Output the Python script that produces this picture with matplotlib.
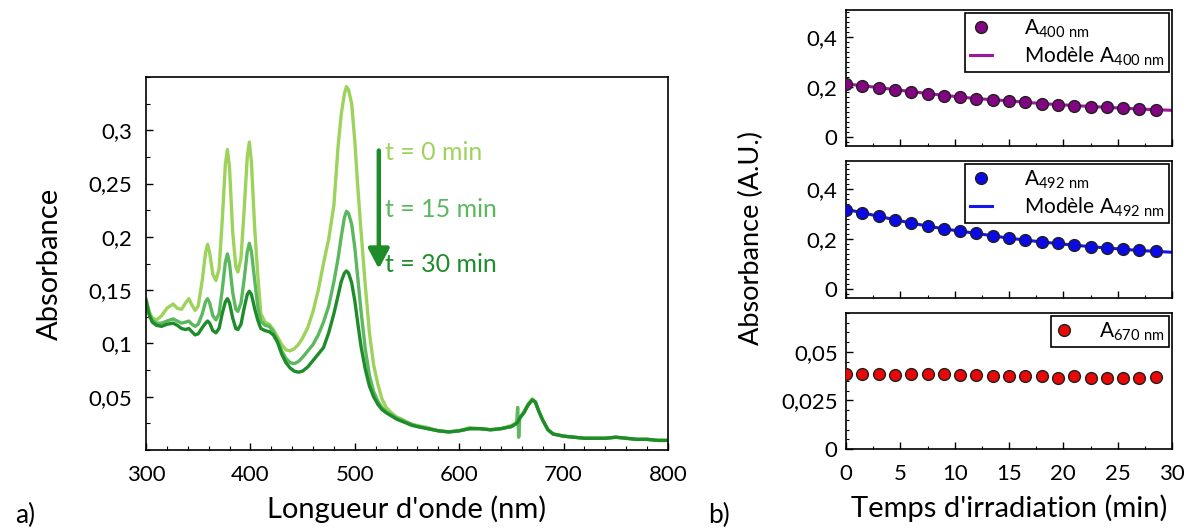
import matplotlib
matplotlib.use("Agg")
import matplotlib.pyplot as plt
from matplotlib.ticker import MultipleLocator, FuncFormatter

plt.rcParams['font.family'] = ['Lato', 'DejaVu Sans']
plt.rcParams['mathtext.fontset'] = 'custom'
plt.rcParams['mathtext.rm'] = 'Lato'

# ---------------- data: spectra ----------------
wavelength = [300, 303, 306, 310, 315, 320, 326, 330, 334, 338, 341, 344, 347, 350, 354, 357,
              359, 361, 364, 367, 370, 373, 376, 378, 380, 383, 386, 388, 391, 394, 397, 399,
              401, 404, 407, 410, 414, 418, 422, 426, 430, 434, 438, 442, 446, 450, 455, 460,
              465, 470, 475, 480, 484, 487, 490, 492, 494, 497, 500, 503, 506, 510, 514, 518,
              522, 526, 530, 535, 540, 545, 550, 555, 560, 570, 580, 590, 600, 610, 620, 630,
              640, 650, 655, 656, 657, 658, 662, 666, 670, 673, 676, 680, 685, 690, 700, 710,
              720, 730, 740, 750, 760, 770, 780, 790, 800]

abs_t0 = [0.142, 0.130, 0.124, 0.122, 0.126, 0.133, 0.137, 0.133, 0.132, 0.138, 0.142, 0.136,
          0.131, 0.135, 0.160, 0.185, 0.193, 0.185, 0.165, 0.159, 0.170, 0.215, 0.268, 0.282,
          0.265, 0.205, 0.172, 0.167, 0.180, 0.225, 0.275, 0.289, 0.270, 0.210, 0.165, 0.128,
          0.120, 0.118, 0.113, 0.106, 0.099, 0.094, 0.093, 0.095, 0.099, 0.105, 0.115, 0.130,
          0.150, 0.175, 0.198, 0.230, 0.285, 0.315, 0.334, 0.341, 0.338, 0.325, 0.290, 0.245,
          0.205, 0.155, 0.110, 0.080, 0.062, 0.048, 0.040, 0.035, 0.031, 0.029, 0.026, 0.024,
          0.023, 0.021, 0.018, 0.017, 0.018, 0.021, 0.020, 0.019, 0.020, 0.023, 0.026, 0.027,
          0.028, 0.030, 0.036, 0.043, 0.048, 0.045, 0.037, 0.028, 0.019, 0.015, 0.013, 0.012,
          0.011, 0.011, 0.011, 0.012, 0.011, 0.010, 0.010, 0.009, 0.009]

abs_t15 = [0.141, 0.128, 0.122, 0.119, 0.119, 0.121, 0.123, 0.121, 0.119, 0.120, 0.121, 0.118,
           0.116, 0.118, 0.128, 0.139, 0.142, 0.138, 0.126, 0.122, 0.128, 0.150, 0.176, 0.184,
           0.175, 0.148, 0.132, 0.130, 0.138, 0.160, 0.186, 0.194, 0.186, 0.160, 0.135, 0.121,
           0.117, 0.116, 0.111, 0.103, 0.093, 0.086, 0.082, 0.081, 0.083, 0.087, 0.093, 0.099,
           0.108, 0.120, 0.135, 0.158, 0.180, 0.200, 0.218, 0.224, 0.222, 0.212, 0.190, 0.160,
           0.130, 0.095, 0.070, 0.055, 0.046, 0.040, 0.036, 0.033, 0.030, 0.028, 0.026, 0.024,
           0.022, 0.020, 0.018, 0.017, 0.018, 0.020, 0.020, 0.019, 0.020, 0.022, 0.025, 0.040,
           0.012, 0.030, 0.035, 0.043, 0.047, 0.045, 0.037, 0.028, 0.019, 0.015, 0.013, 0.012,
           0.011, 0.011, 0.011, 0.012, 0.011, 0.010, 0.010, 0.009, 0.009]

abs_t30 = [0.140, 0.127, 0.120, 0.117, 0.116, 0.118, 0.119, 0.117, 0.114, 0.113, 0.114, 0.111,
           0.108, 0.109, 0.115, 0.119, 0.121, 0.119, 0.112, 0.110, 0.114, 0.128, 0.139, 0.142,
           0.138, 0.124, 0.114, 0.113, 0.118, 0.133, 0.146, 0.149, 0.146, 0.133, 0.122, 0.114,
           0.112, 0.111, 0.108, 0.101, 0.090, 0.082, 0.077, 0.074, 0.073, 0.074, 0.078, 0.084,
           0.090, 0.096, 0.110, 0.128, 0.145, 0.158, 0.166, 0.168, 0.166, 0.157, 0.140, 0.118,
           0.097, 0.076, 0.060, 0.050, 0.043, 0.038, 0.035, 0.032, 0.029, 0.027, 0.025, 0.023,
           0.022, 0.020, 0.018, 0.017, 0.018, 0.020, 0.020, 0.019, 0.020, 0.022, 0.025, 0.026,
           0.028, 0.030, 0.035, 0.042, 0.047, 0.045, 0.037, 0.028, 0.019, 0.015, 0.013, 0.012,
           0.011, 0.011, 0.011, 0.012, 0.011, 0.010, 0.010, 0.009, 0.009]

spectra_labels = ["t = 0 min", "t = 15 min", "t = 30 min"]

# ---------------- data: kinetics ----------------
time_min = [0, 1.5, 3, 4.5, 6, 7.5, 9, 10.5, 12, 13.5, 15, 16.5, 18, 19.5, 21, 22.5, 24, 25.5, 27, 28.5]
a400 = [0.212, 0.205, 0.199, 0.191, 0.182, 0.174, 0.167, 0.162, 0.155, 0.150, 0.146, 0.140,
        0.135, 0.130, 0.127, 0.122, 0.120, 0.116, 0.113, 0.110]
a492 = [0.316, 0.303, 0.290, 0.276, 0.263, 0.251, 0.240, 0.230, 0.222, 0.212, 0.203, 0.196,
        0.188, 0.182, 0.175, 0.169, 0.164, 0.158, 0.154, 0.150]
a670 = [0.0386, 0.0386, 0.0386, 0.0381, 0.0386, 0.0386, 0.0388, 0.0383, 0.0383, 0.0374,
        0.0374, 0.0374, 0.0374, 0.0366, 0.0376, 0.0364, 0.0364, 0.0367, 0.0366, 0.0371]
model_time = [0, 3, 6, 9, 12, 15, 18, 21, 24, 27, 30]
model_a400 = [0.214, 0.199, 0.183, 0.168, 0.155, 0.146, 0.135, 0.127, 0.120, 0.113, 0.108]
model_a492 = [0.318, 0.290, 0.263, 0.240, 0.222, 0.203, 0.188, 0.175, 0.164, 0.154, 0.147]

# ---------------- style ----------------
c_light = '#9dd35a'
c_mid = '#5cb85f'
c_dark = '#1f8c2a'

W, H = 1195, 528
fig = plt.figure(figsize=(W / 100, H / 100), dpi=100)

def frac(x0, y0, x1, y1):
    return [x0 / W, 1 - y1 / H, (x1 - x0) / W, (y1 - y0) / H]

comma = FuncFormatter(lambda v, p: ('%g' % round(v, 4)).replace('.', ','))

# ---------------- panel a ----------------
ax = fig.add_axes(frac(146, 77, 668, 450))
for vals, col in [(abs_t0, c_light), (abs_t15, c_mid), (abs_t30, c_dark)]:
    ax.plot(wavelength, vals, color=col, lw=2.4, solid_joinstyle='round')
ax.set_xlim(300, 800)
ax.set_ylim(0, 0.35)
ax.set_yticks([0.05, 0.1, 0.15, 0.2, 0.25, 0.3])
ax.xaxis.set_major_locator(MultipleLocator(100))
ax.xaxis.set_minor_locator(MultipleLocator(20))
ax.yaxis.set_minor_locator(MultipleLocator(0.025))
ax.yaxis.set_major_formatter(comma)
ax.tick_params(direction='in', which='major', length=5, width=1, labelsize=16)
ax.tick_params(axis='x', pad=11)
ax.tick_params(axis='y', pad=10)
ax.tick_params(direction='in', which='minor', length=3, width=0.8)
for s in ax.spines.values():
    s.set_linewidth(1.2)
ax.set_xlabel("Longueur d'onde (nm)", fontsize=21, labelpad=7)
ax.set_ylabel("Absorbance", fontsize=21, labelpad=18)

ax.annotate('', xy=(523, 0.170), xytext=(523, 0.281), xycoords='data',
            arrowprops=dict(arrowstyle='-|>,head_width=0.45,head_length=0.85', color=c_dark,
                            lw=3.2, shrinkA=0, shrinkB=0, mutation_scale=14))
for lab, col, yv in zip(spectra_labels, [c_light, c_mid, c_dark], [0.279, 0.2256, 0.174]):
    ax.text(529, yv, lab, color=col, fontsize=18, va='center', ha='left')

fig.text(15 / W, 1 - 515 / H, 'a)', fontsize=19, va='center', ha='left')
fig.text(708 / W, 1 - 515 / H, 'b)', fontsize=19, va='center', ha='left')

# ---------------- panel b ----------------
axes_b = [fig.add_axes(frac(846, 10, 1172, 146)),
          fig.add_axes(frac(846, 161, 1172, 298)),
          fig.add_axes(frac(846, 313, 1172, 449))]

def style_b(a, show_x):
    a.set_xlim(0, 30)
    a.xaxis.set_major_locator(MultipleLocator(5))
    a.xaxis.set_minor_locator(MultipleLocator(2.5))
    a.yaxis.set_major_formatter(comma)
    a.tick_params(direction='in', which='major', length=5, width=1, labelsize=16, pad=6)
    a.tick_params(axis='x', pad=11)
    a.tick_params(direction='in', which='minor', length=2.5, width=0.8)
    if not show_x:
        a.tick_params(axis='x', labelbottom=False)
    for s in a.spines.values():
        s.set_linewidth(1.2)

mk = dict(marker='o', ms=8.5, mec='#202020', mew=1.0, ls='none')
leg_kw = dict(loc='upper right', fontsize=15, frameon=True, fancybox=False, framealpha=1,
              edgecolor='black', borderaxespad=0.15, handlelength=1.1, handletextpad=1.5,
              borderpad=0.2, labelspacing=0.2)

a0 = axes_b[0]
a0.plot(model_time, model_a400, color='#a0169f', lw=2.2, zorder=2, label=r'Modèle A$_{\mathregular{400\ nm}}$')
a0.plot(time_min, a400, mfc='#820682', zorder=3, label=r'A$_{\mathregular{400\ nm}}$', **mk)
a0.set_ylim(-0.035, 0.51)
a0.set_yticks([0, 0.2, 0.4])
a0.yaxis.set_minor_locator(MultipleLocator(0.02))
style_b(a0, False)
h, l = a0.get_legend_handles_labels()
lg = a0.legend(h[::-1], l[::-1], **leg_kw)
lg.get_frame().set_linewidth(1.2)

a1 = axes_b[1]
a1.plot(model_time, model_a492, color='#1515f0', lw=2.2, zorder=2, label=r'Modèle A$_{\mathregular{492\ nm}}$')
a1.plot(time_min, a492, mfc='#0a0ae8', zorder=3, label=r'A$_{\mathregular{492\ nm}}$', **mk)
a1.set_ylim(-0.035, 0.51)
a1.set_yticks([0, 0.2, 0.4])
a1.yaxis.set_minor_locator(MultipleLocator(0.02))
style_b(a1, False)
h, l = a1.get_legend_handles_labels()
lg = a1.legend(h[::-1], l[::-1], **leg_kw)
lg.get_frame().set_linewidth(1.2)

a2 = axes_b[2]
a2.plot(time_min, a670, mfc='#e80808', zorder=3, label=r'A$_{\mathregular{670\ nm}}$', **mk)
a2.set_ylim(0, 0.07)
a2.set_yticks([0, 0.025, 0.05])
a2.yaxis.set_minor_locator(MultipleLocator(0.005))
style_b(a2, True)
kw2 = dict(leg_kw)
kw2['handletextpad'] = 1.3
kw2['handlelength'] = 0.8
lg = a2.legend(**kw2)
lg.get_frame().set_linewidth(1.2)
a2.set_xlabel("Temps d'irradiation (min)", fontsize=21, labelpad=7)

fig.text(751 / W, 1 - 238 / H, 'Absorbance (A.U.)', fontsize=19.5, rotation=90, va='center', ha='center')

fig.savefig('out.png', dpi=100)
